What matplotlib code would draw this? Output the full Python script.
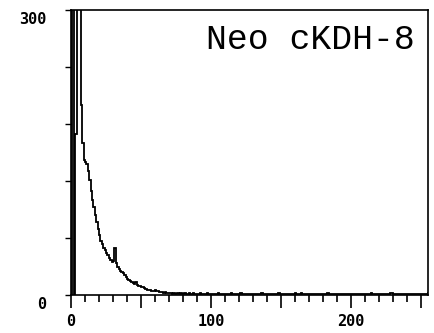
import numpy as np
import matplotlib
matplotlib.use("Agg")
import matplotlib.pyplot as plt
from matplotlib.ticker import MultipleLocator, FixedLocator
from matplotlib.transforms import ScaledTranslation

title = "Neo cKDH-8"
x_major = [0, 50, 100, 150, 200, 250]
x_labels = ["0", "", "100", "", "200", ""]
y_major = [0, 300]
y_minor = [60, 120, 180, 240]

# counts per channel (0..255)
counts_head = [
    0, 330, 0, 170, 330, 330, 330, 200, 160, 142,
    140, 138, 131, 121, 110, 100, 93, 84, 77, 70,
    63, 57, 54, 50, 47, 44, 42, 39, 37, 35,
    36, 49, 34, 30, 27, 25, 24, 23, 21, 19,
    17, 16, 15, 14, 13, 12, 14, 11, 10, 9,
    8, 8, 7, 6, 5, 5, 5, 4, 4, 4,
    5, 4, 4, 3, 3, 3, 2, 3, 2, 2,
    2,
]
counts_tail = [
    2, 1, 2, 1, 1, 2, 1, 2, 1, 1,
    2, 1, 1, 2, 1, 1, 2, 1, 1, 1,
    1, 2, 1, 1, 1, 1, 2, 1, 1, 1,
    1, 1, 1, 1, 2, 1, 1, 1, 1, 1,
    1, 1, 1, 2, 1, 1, 1, 1, 1, 1,
    2, 1, 1, 1, 1, 1, 1, 1, 1, 1,
    1, 1, 1, 1, 1, 2, 1, 1, 1, 1,
    1, 1, 1, 1, 1, 1, 1, 2, 1, 1,
    1, 1, 1, 1, 1, 1, 1, 1, 1, 2,
    1, 1, 1, 2, 1, 1, 1, 1, 1, 1,
    1, 1, 1, 1, 1, 1, 1, 1, 1, 1,
    1, 1, 2, 1, 1, 1, 1, 1, 1, 1,
    1, 1, 1, 1, 1, 1, 1, 1, 1, 1,
    1, 1, 1, 1, 1, 1, 1, 1, 1, 1,
    1, 1, 1, 2, 1, 1, 1, 1, 1, 1,
    1, 1, 1, 1, 1, 1, 1, 2, 2, 1,
    1, 1, 1, 1, 1, 1, 1, 1, 1, 1,
    1, 1, 1, 1, 1, 1, 1, 1, 1, 1,
    1, 1, 1, 1, 2,
]
counts = counts_head + counts_tail
edges = np.arange(len(counts) + 1)

fig = plt.figure(figsize=(4.34, 3.33), dpi=100)
ax = fig.add_axes([0.1636, 0.114, 0.8225, 0.856])
ax.stairs(counts, edges, color="black", linewidth=1.3)

ax.set_xlim(0, 255)
ax.set_ylim(0, 300)

ax.xaxis.set_major_locator(FixedLocator(x_major))
ax.set_xticklabels(x_labels)
ax.xaxis.set_minor_locator(MultipleLocator(10))
ax.yaxis.set_major_locator(FixedLocator(y_major))
ax.set_yticklabels([str(v) for v in y_major])
ax.yaxis.set_minor_locator(FixedLocator(y_minor))

ax.tick_params(axis="x", which="major", direction="out", length=9, width=1.2, pad=5,
               labelsize=11)
ax.tick_params(axis="x", which="minor", direction="out", length=5, width=1.2)
ax.tick_params(axis="y", which="both", direction="out", length=4, width=1.0, pad=14,
               labelsize=11)
for lab in ax.get_xticklabels() + ax.get_yticklabels():
    lab.set_fontfamily("DejaVu Sans Mono")
    lab.set_fontweight("bold")
shift = ScaledTranslation(0, -8 / 100, fig.dpi_scale_trans)
for lab in ax.get_yticklabels():
    lab.set_transform(lab.get_transform() + shift)

for s in ax.spines.values():
    s.set_linewidth(1.2)

ax.text(0.963, 0.895, title, transform=ax.transAxes, ha="right", va="center",
        fontsize=25, family="Liberation Mono")

fig.savefig("out.png", dpi=100)
